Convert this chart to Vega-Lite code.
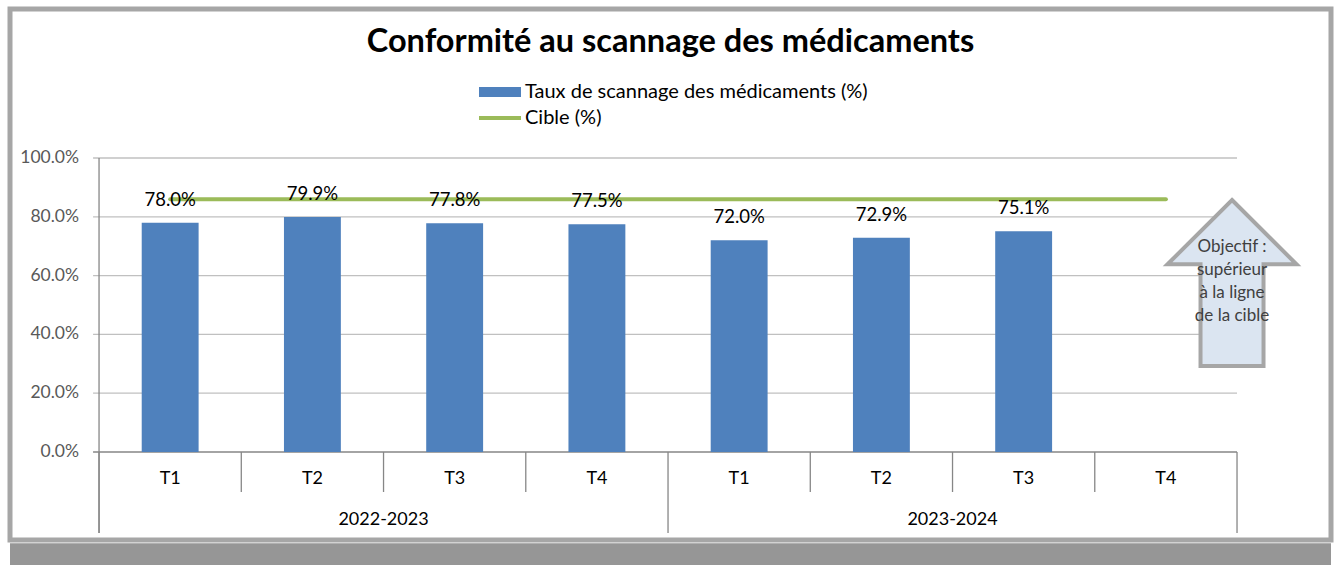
{
  "$schema": "https://vega.github.io/schema/vega-lite/v6.json",
  "width": 1321,
  "height": 531,
  "autosize": {"type": "none"},
  "padding": {"left": 10, "top": 9, "right": 5, "bottom": 25},
  "background": "white",
  "config": {
    "view": {"fill": "white", "stroke": "#a6a6a6", "strokeWidth": 5},
    "font": "Lato",
    "axis": {"disable": true}
  },
  "title": {
    "text": "Conformité au scannage des médicaments",
    "font": "Lato",
    "fontSize": 32.5,
    "fontWeight": "bold",
    "color": "#000000",
    "anchor": "middle",
    "orient": "top",
    "offset": 0,
    "baseline": "alphabetic",
    "dy": 75
  },
  "datasets": {
    "trimestres": [
      {"annee": "2022-2023", "trimestre": "T1", "periode": "2022-2023 T1", "taux": 0.780, "cible": 0.86},
      {"annee": "2022-2023", "trimestre": "T2", "periode": "2022-2023 T2", "taux": 0.799, "cible": 0.86},
      {"annee": "2022-2023", "trimestre": "T3", "periode": "2022-2023 T3", "taux": 0.778, "cible": 0.86},
      {"annee": "2022-2023", "trimestre": "T4", "periode": "2022-2023 T4", "taux": 0.775, "cible": 0.86},
      {"annee": "2023-2024", "trimestre": "T1", "periode": "2023-2024 T1", "taux": 0.720, "cible": 0.86},
      {"annee": "2023-2024", "trimestre": "T2", "periode": "2023-2024 T2", "taux": 0.729, "cible": 0.86},
      {"annee": "2023-2024", "trimestre": "T3", "periode": "2023-2024 T3", "taux": 0.751, "cible": 0.86},
      {"annee": "2023-2024", "trimestre": "T4", "periode": "2023-2024 T4", "taux": null, "cible": 0.86}
    ],
    "grille": [{"v": 0}, {"v": 0.2}, {"v": 0.4}, {"v": 0.6}, {"v": 0.8}, {"v": 1.0}],
    "note": [{"texte": "Objectif : supérieur à la ligne de la cible"}]
  },
  "data": {"name": "trimestres"},
  "layer": [
    {
      "data": {"name": "note"},
      "mark": {"type": "rect", "color": "#969696"},
      "encoding": {
        "y": {"datum": -0.31, "type": "quantitative"},
        "y2": {"datum": -0.42}
      }
    },
    {
      "data": {"name": "grille"},
      "mark": {"type": "rule", "strokeWidth": 1.3},
      "encoding": {
        "x": {"datum": "2022-2023 T1", "type": "nominal", "bandPosition": -0.855},
        "x2": {"datum": "2023-2024 T4", "bandPosition": 1.75},
        "y": {"field": "v", "type": "quantitative"},
        "stroke": {"condition": {"test": "datum.v == 0", "value": "#868686"}, "value": "#c0c0c0"}
      }
    },
    {
      "transform": [{"filter": "datum.taux != null"}],
      "mark": {"type": "bar"},
      "encoding": {
        "x": {
          "field": "periode",
          "type": "nominal",
          "axis": null,
          "scale": {
            "type": "band",
            "domain": ["2022-2023 T1", "2022-2023 T2", "2022-2023 T3", "2022-2023 T4", "2023-2024 T1", "2023-2024 T2", "2023-2024 T3", "2023-2024 T4"],
            "paddingInner": 0.6,
            "paddingOuter": 0.9433,
            "align": 0.4908
          }
        },
        "y": {
          "field": "taux",
          "type": "quantitative",
          "axis": null,
          "scale": {"domain": [-0.2993, 1.5068], "nice": false, "zero": false}
        },
        "y2": {"datum": 0},
        "color": {
          "datum": "Taux de scannage des médicaments (%)",
          "type": "nominal",
          "scale": {
            "domain": ["Taux de scannage des médicaments (%)", "Cible (%)"],
            "range": ["#4f81bd", "#9bbb59"]
          },
          "legend": {
            "orient": "none",
            "legendX": 480,
            "legendY": 73,
            "direction": "vertical",
            "title": null,
            "padding": 0,
            "labelFont": "Lato",
            "labelFontSize": 20,
            "labelColor": "#000000",
            "labelOffset": 15,
            "labelLimit": 600,
            "symbolSize": 100,
            "rowPadding": 6,
            "encode": {
              "symbols": {
                "update": {
                  "shape": {"signal": "datum.value === 'Cible (%)' ? 'M-4.2,0H4.2' : 'M-4.2,-1H4.2V1H-4.2Z'"},
                  "fill": {"signal": "datum.value === 'Cible (%)' ? 'transparent' : '#4f81bd'"},
                  "stroke": {"signal": "datum.value === 'Cible (%)' ? '#9bbb59' : 'transparent'"},
                  "strokeWidth": {"signal": "datum.value === 'Cible (%)' ? 4 : 0"},
                  "opacity": {"value": 1}
                }
              }
            }
          }
        }
      }
    },
    {
      "transform": [{"filter": "datum.trimestre != 'T1'"}],
      "mark": {"type": "rule", "stroke": "#868686", "strokeWidth": 1.3},
      "encoding": {
        "x": {"field": "periode", "type": "nominal", "bandPosition": -0.75},
        "y": {"datum": 0, "type": "quantitative"},
        "y2": {"datum": -0.136}
      }
    },
    {
      "transform": [{"filter": "datum.trimestre == 'T1'"}],
      "mark": {"type": "rule", "stroke": "#868686", "strokeWidth": 1.3},
      "encoding": {
        "x": {"field": "periode", "type": "nominal", "bandPosition": -0.75},
        "y": {"datum": 0, "type": "quantitative"},
        "y2": {"datum": -0.2755}
      }
    },
    {
      "data": {"name": "note"},
      "mark": {"type": "rule", "stroke": "#868686", "strokeWidth": 1.3},
      "encoding": {
        "x": {"datum": "2022-2023 T1", "type": "nominal", "bandPosition": -0.75},
        "y": {"datum": 1.0, "type": "quantitative"},
        "y2": {"datum": -0.2755}
      }
    },
    {
      "data": {"name": "note"},
      "mark": {"type": "rule", "stroke": "#868686", "strokeWidth": 1.3},
      "encoding": {
        "x": {"datum": "2023-2024 T4", "type": "nominal", "bandPosition": 1.75},
        "y": {"datum": 0, "type": "quantitative"},
        "y2": {"datum": -0.2755}
      }
    },
    {
      "mark": {"type": "line", "strokeWidth": 4, "strokeCap": "round"},
      "encoding": {
        "x": {"field": "periode", "type": "nominal"},
        "y": {"field": "cible", "type": "quantitative"},
        "color": {"datum": "Cible (%)", "type": "nominal"}
      }
    },
    {
      "transform": [{"filter": "datum.taux != null"}],
      "mark": {"type": "text", "fontSize": 18.5, "color": "#000000", "baseline": "middle", "dy": -23},
      "encoding": {
        "x": {"field": "periode", "type": "nominal"},
        "y": {"field": "taux", "type": "quantitative"},
        "text": {"field": "taux", "type": "quantitative", "format": ".1%"}
      }
    },
    {
      "mark": {"type": "text", "fontSize": 18, "color": "#000000", "baseline": "middle"},
      "encoding": {
        "x": {"field": "periode", "type": "nominal"},
        "y": {"datum": -0.0918, "type": "quantitative"},
        "text": {"field": "trimestre"}
      }
    },
    {
      "transform": [{"filter": "datum.trimestre == 'T2'"}],
      "mark": {"type": "text", "fontSize": 18, "color": "#000000", "baseline": "middle"},
      "encoding": {
        "x": {"field": "periode", "type": "nominal", "bandPosition": 1.75},
        "y": {"datum": -0.231, "type": "quantitative"},
        "text": {"field": "annee"}
      }
    },
    {
      "data": {"name": "grille"},
      "mark": {"type": "text", "fontSize": 17.5, "color": "#595959", "align": "right", "baseline": "middle", "dx": -20},
      "encoding": {
        "x": {"datum": "2022-2023 T1", "type": "nominal", "bandPosition": -0.75},
        "y": {"field": "v", "type": "quantitative"},
        "text": {"field": "v", "type": "quantitative", "format": ".1%"}
      }
    },
    {
      "data": {"name": "note"},
      "mark": {
        "type": "point",
        "shape": "M0,-83L64.5,-18.7L31.5,-18.7L31.5,83L-31.5,83L-31.5,-18.7L-64.5,-18.7Z",
        "size": 4,
        "filled": true,
        "fill": "#dbe5f1",
        "stroke": "#a6a6a6",
        "strokeWidth": 4,
        "opacity": 1,
        "strokeOpacity": 1,
        "fillOpacity": 1
      },
      "encoding": {
        "x": {"datum": "2023-2024 T4", "type": "nominal", "bandPosition": 1.662},
        "y": {"datum": 0.5748, "type": "quantitative"}
      }
    },
    {
      "data": {"name": "note"},
      "mark": {
        "type": "text",
        "text": ["Objectif :", "supérieur", "à la ligne", "de la cible"],
        "fontSize": 17,
        "lineHeight": 23,
        "color": "#404040",
        "align": "center",
        "baseline": "middle"
      },
      "encoding": {
        "x": {"datum": "2023-2024 T4", "type": "nominal", "bandPosition": 1.662},
        "y": {"datum": 0.6983, "type": "quantitative"}
      }
    }
  ]
}
